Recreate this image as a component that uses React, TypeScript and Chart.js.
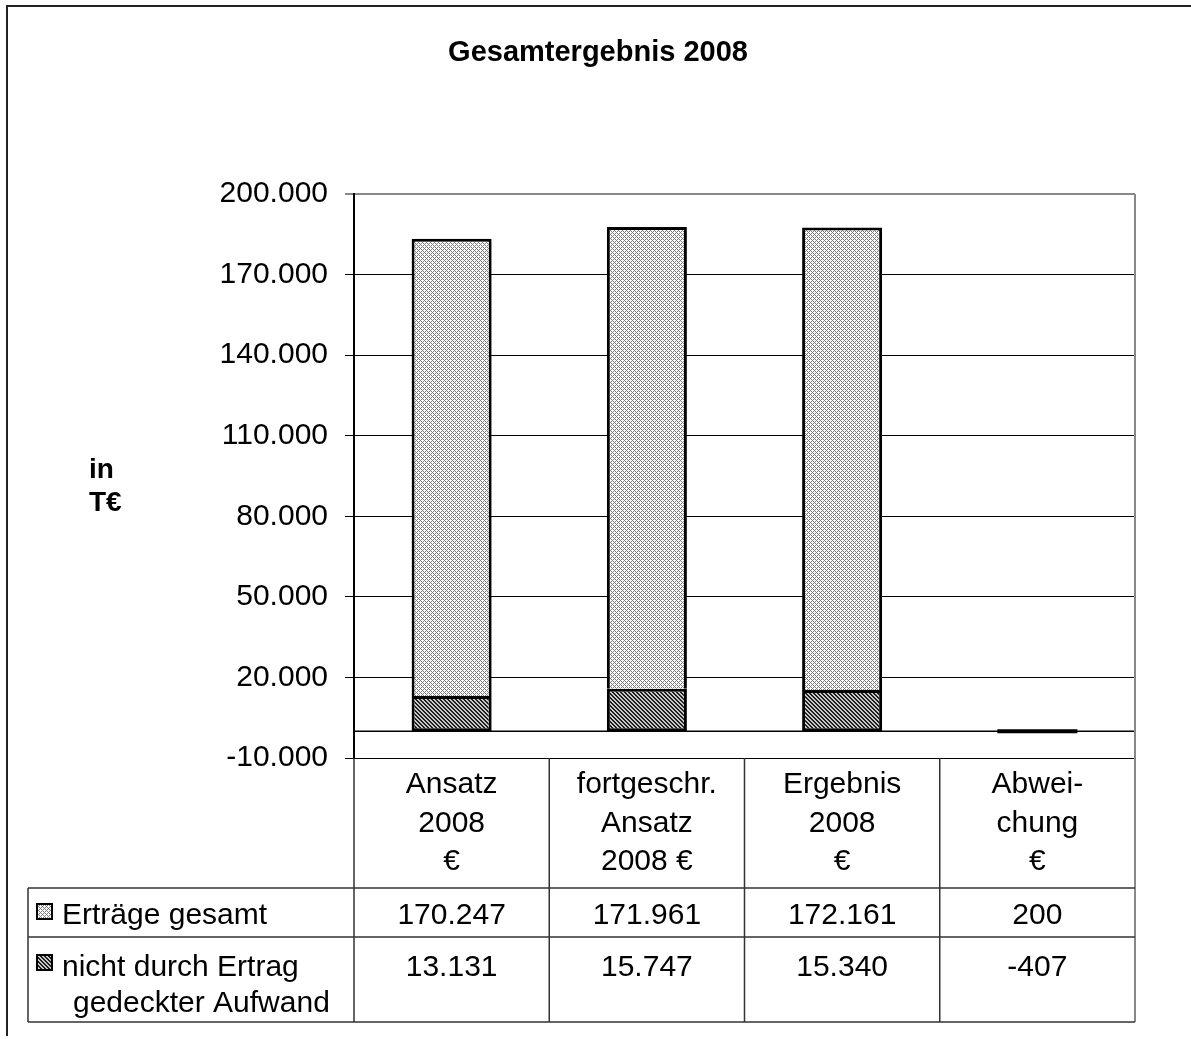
import React, { useEffect, useRef } from 'react';
import { Chart, registerables } from 'chart.js';

Chart.register(...registerables);

const chartTitle = 'Gesamtergebnis 2008';
const yAxisTitleLines = ['in', 'T€'];
const categories = [
  ['Ansatz', '2008', '€'],
  ['fortgeschr.', 'Ansatz', '2008 €'],
  ['Ergebnis', '2008', '€'],
  ['Abwei-', 'chung', '€'],
];
const ertraegeLabel = ['Erträge gesamt'];
const aufwandLabel = ['nicht durch Ertrag', 'gedeckter Aufwand'];
const ertraegeGesamt = [170247, 171961, 172161, 200];
const nichtGedeckterAufwand = [13131, 15747, 15340, -407];
const yTicks = [-10000, 20000, 50000, 80000, 110000, 140000, 170000, 200000];

const FONT = '"Liberation Sans", Arial, Helvetica, sans-serif';

function fmt(v: number): string {
  const s = Math.abs(Math.round(v)).toString().replace(/\B(?=(\d{3})+(?!\d))/g, '.');
  return (v < 0 ? '-' : '') + s;
}

function makeCrossPattern(): CanvasPattern | string {
  const c = document.createElement('canvas');
  c.width = 4;
  c.height = 4;
  const g = c.getContext('2d');
  if (!g) return '#ccc';
  g.fillStyle = '#ffffff';
  g.fillRect(0, 0, 4, 4);
  g.fillStyle = '#7a7a7a';
  for (let x = 0; x < 4; x++) {
    for (let y = 0; y < 4; y++) {
      if ((x + y) % 4 === 0 || (((x - y) % 4) + 4) % 4 === 0) g.fillRect(x, y, 1, 1);
    }
  }
  const p = g.createPattern(c, 'repeat');
  return p || '#ccc';
}

function makeDiagPattern(): CanvasPattern | string {
  const c = document.createElement('canvas');
  c.width = 4;
  c.height = 4;
  const g = c.getContext('2d');
  if (!g) return '#666';
  g.fillStyle = '#c8c8c8';
  g.fillRect(0, 0, 4, 4);
  g.fillStyle = '#1e1e1e';
  for (let x = 0; x < 4; x++) {
    for (let y = 0; y < 4; y++) {
      const d = (((x - y) % 4) + 4) % 4;
      if (d === 0 || d === 1) g.fillRect(x, y, 1, 1);
    }
  }
  const p = g.createPattern(c, 'repeat');
  return p || '#666';
}

export default function App() {
  const ref = useRef<HTMLCanvasElement | null>(null);

  useEffect(() => {
    const canvas = ref.current;
    if (!canvas) return;
    const crossPat = makeCrossPattern();
    const diagPat = makeDiagPattern();

    const TABLE_LEFT = 28;
    const ROW1_TOP = 888;
    const ROW2_TOP = 937;
    const TABLE_BOTTOM = 1022;

    const isTiny = (c: any) => Math.abs(Number(c.raw)) < 1000;

    const decor = {
      id: 'decor',
      beforeDatasetsDraw(chart: any) {
        const ctx = chart.ctx;
        const y = chart.scales.y;
        const a = chart.chartArea;
        ctx.save();
        ctx.strokeStyle = '#000';
        ctx.lineWidth = 1.5;
        const y0 = y.getPixelForValue(0);
        ctx.beginPath();
        ctx.moveTo(a.left, y0);
        ctx.lineTo(a.right, y0);
        ctx.stroke();
        ctx.restore();
      },
      afterDraw(chart: any) {
        const ctx = chart.ctx;
        const x = chart.scales.x;
        const a = chart.chartArea;
        ctx.save();
        // outer frame
        ctx.strokeStyle = '#222';
        ctx.lineWidth = 2;
        ctx.beginPath();
        ctx.moveTo(7, 1036);
        ctx.lineTo(7, 6);
        ctx.lineTo(1191, 6);
        ctx.stroke();

        // title
        ctx.fillStyle = '#000';
        ctx.font = `bold 29px ${FONT}`;
        ctx.textAlign = 'center';
        ctx.textBaseline = 'alphabetic';
        ctx.fillText(chartTitle, 598, 61);

        // y axis title
        ctx.font = `bold 28px ${FONT}`;
        ctx.textAlign = 'left';
        yAxisTitleLines.forEach((t, i) => ctx.fillText(t, 89, 478 + i * 33));

        // right plot border
        ctx.strokeStyle = '#888';
        ctx.lineWidth = 2;
        ctx.beginPath();
        ctx.moveTo(a.right, a.top);
        ctx.lineTo(a.right, TABLE_BOTTOM);
        ctx.stroke();

        // table lines
        const n = categories.length;
        const bounds: number[] = [a.left];
        for (let i = 0; i < n - 1; i++) {
          bounds.push((x.getPixelForValue(i) + x.getPixelForValue(i + 1)) / 2);
        }
        ctx.strokeStyle = '#333';
        ctx.lineWidth = 1.5;
        ctx.beginPath();
        bounds.forEach((bx) => {
          ctx.moveTo(bx, a.bottom);
          ctx.lineTo(bx, TABLE_BOTTOM);
        });
        ctx.moveTo(TABLE_LEFT, ROW1_TOP);
        ctx.lineTo(TABLE_LEFT, TABLE_BOTTOM);
        [ROW1_TOP, ROW2_TOP, TABLE_BOTTOM].forEach((ry) => {
          ctx.moveTo(TABLE_LEFT, ry);
          ctx.lineTo(a.right, ry);
        });
        ctx.stroke();

        // values
        ctx.fillStyle = '#000';
        ctx.font = `30px ${FONT}`;
        ctx.textAlign = 'center';
        for (let i = 0; i < n; i++) {
          const cx = x.getPixelForValue(i);
          ctx.fillText(fmt(ertraegeGesamt[i]), cx, 924);
          ctx.fillText(fmt(nichtGedeckterAufwand[i]), cx, 976);
        }

        // legend keys + labels
        const drawKey = (ky: number, fill: any) => {
          ctx.fillStyle = fill;
          ctx.fillRect(37, ky, 15, 15);
          ctx.strokeStyle = '#000';
          ctx.lineWidth = 2;
          ctx.strokeRect(37, ky, 15, 15);
        };
        drawKey(904, crossPat);
        drawKey(955, diagPat);
        ctx.fillStyle = '#000';
        ctx.textAlign = 'left';
        ctx.fillText(ertraegeLabel[0], 62, 924);
        ctx.fillText(aufwandLabel[0], 62, 976);
        ctx.fillText(aufwandLabel[1], 73, 1012);
        ctx.restore();
      },
    };

    const chart = new Chart(canvas, {
      type: 'bar',
      data: {
        labels: categories,
        datasets: [
          {
            label: aufwandLabel.join(' '),
            data: nichtGedeckterAufwand,
            backgroundColor: ((c: any) => (isTiny(c) ? '#000' : diagPat)) as any,
            borderColor: '#000',
            borderWidth: ((c: any) => (isTiny(c) ? 0 : 3)) as any,
            borderSkipped: false,
            minBarLength: 2,
            barPercentage: 0.41,
            categoryPercentage: 1,
            stack: 's',
          },
          {
            label: ertraegeLabel[0],
            data: ertraegeGesamt,
            backgroundColor: ((c: any) => (isTiny(c) ? '#000' : crossPat)) as any,
            borderColor: '#000',
            borderWidth: ((c: any) => (isTiny(c) ? 0 : 3)) as any,
            borderSkipped: 'start',
            minBarLength: 2,
            barPercentage: 0.41,
            categoryPercentage: 1,
            stack: 's',
          },
        ],
      },
      options: {
        responsive: false,
        animation: false,
        devicePixelRatio: 1,
        layout: { padding: { left: 0, right: 56, top: 194, bottom: 0 } },
        plugins: {
          legend: { display: false },
          tooltip: { enabled: false },
          title: { display: false },
        },
        scales: {
          x: {
            stacked: true,
            grid: { display: false, drawTicks: false },
            border: { display: false },
            ticks: {
              color: '#000',
              font: { family: FONT, size: 30, lineHeight: 1.28 },
              padding: 8,
              maxRotation: 0,
              minRotation: 0,
              autoSkip: false,
            },
            afterFit: (s: any) => {
              s.height = 281;
            },
          },
          y: {
            stacked: true,
            min: -10000,
            max: 200000,
            afterBuildTicks: (s: any) => {
              s.ticks = yTicks.map((v) => ({ value: v }));
            },
            grid: {
              color: (c: any) => (c.tick && c.tick.value === 200000 ? '#888' : '#000'),
              lineWidth: (c: any) => (c.tick && c.tick.value === 200000 ? 2 : 1),
              tickLength: 9,
              drawTicks: true,
            },
            border: { display: true, color: '#000', width: 2 },
            ticks: {
              color: '#000',
              font: { family: FONT, size: 30 },
              padding: 17,
              callback: (v: any) => fmt(Number(v)),
            },
            afterFit: (s: any) => {
              s.width = 354;
            },
          },
        },
      },
      plugins: [decor],
    });

    return () => chart.destroy();
  }, []);

  return (
    <div style={{ position: 'absolute', left: 0, top: 0, width: 1191, height: 1039, background: '#fff' }}>
      <canvas ref={ref} width={1191} height={1039} style={{ display: 'block' }} />
    </div>
  );
}
